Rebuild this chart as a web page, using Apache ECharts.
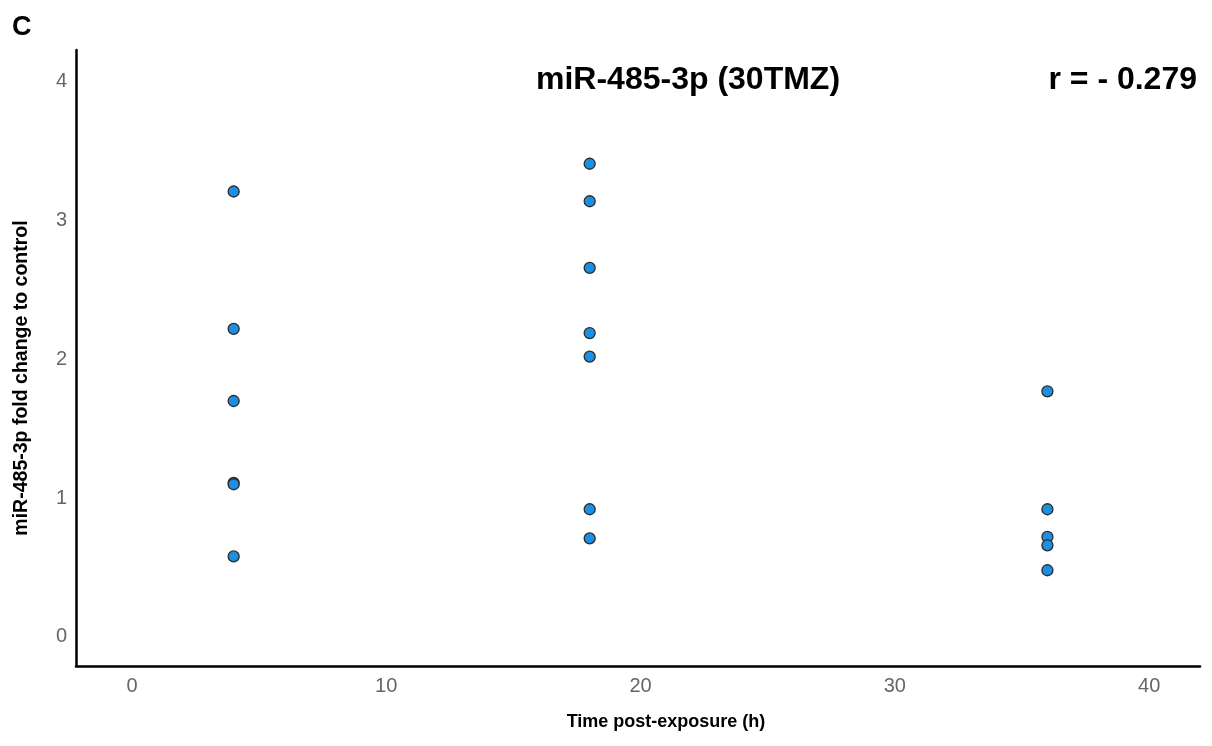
<!DOCTYPE html>
<html>
<head>
<meta charset="utf-8">
<script src="https://cdn.jsdelivr.net/npm/echarts@6/dist/echarts.min.js"></script>
<style>html,body{margin:0;padding:0;background:#fff}#c{width:1212px;height:746px}</style>
</head>
<body>
<div id="c"></div>
<script>
const timePoints = [4, 4, 4, 4, 4, 4, 18, 18, 18, 18, 18, 18, 18, 36, 36, 36, 36, 36];
const foldChange = [3.21, 2.22, 1.70, 1.11, 1.10, 0.58, 3.41, 3.14, 2.66, 2.19, 2.02, 0.92, 0.71, 1.77, 0.92, 0.72, 0.66, 0.48];
const xTicks = [0, 10, 20, 30, 40];
const yTicks = [0, 1, 2, 3, 4];
const titleText = 'miR-485-3p (30TMZ)';
const rText = 'r = - 0.279';
const panelLabel = 'C';
const xName = 'Time post-exposure (h)';
const yName = 'miR-485-3p fold change to control';

const data = timePoints.map((t, i) => [t, foldChange[i]]);
const chart = echarts.init(document.getElementById('c'));
const ff = 'Liberation Sans, Arial, sans-serif';
chart.setOption({
  animation: false,
  backgroundColor: '#fff',
  grid: { left: 76, right: 12, top: 50, bottom: 80, containLabel: false },
  title: [
    { text: panelLabel, left: 7, top: 9, textStyle: { fontFamily: ff, fontWeight: 'bold', fontSize: 27, color: '#000' } },
    { text: titleText, left: 531, top: 59, textStyle: { fontFamily: ff, fontWeight: 'bold', fontSize: 32, color: '#000' } },
    { text: rText, right: 10, top: 59, textStyle: { fontFamily: ff, fontWeight: 'bold', fontSize: 32, color: '#000' } }
  ],
  xAxis: {
    type: 'value', min: -2.2, max: 42,
    name: xName, nameLocation: 'middle', nameGap: 47,
    nameTextStyle: { fontFamily: ff, fontWeight: 'bold', fontSize: 18, color: '#000', padding: [0, 0, 0, 56] },
    axisLine: { show: true, onZero: false, lineStyle: { color: '#000', width: 2.5 } },
    axisTick: { show: false },
    splitLine: { show: false },
    axisLabel: { customValues: xTicks, margin: 10, fontFamily: ff, fontSize: 20, color: '#666' }
  },
  yAxis: {
    type: 'value', min: -0.21, max: 4.23,
    name: yName, nameLocation: 'middle', nameGap: 44,
    nameTextStyle: { fontFamily: ff, fontWeight: 'bold', fontSize: 19.5, color: '#000', padding: [0, 40, 0, 0] },
    axisLine: { show: true, onZero: false, lineStyle: { color: '#000', width: 2.5 } },
    axisTick: { show: false },
    splitLine: { show: false },
    axisLabel: { customValues: yTicks, margin: 9, fontFamily: ff, fontSize: 20, color: '#666' }
  },
  series: [{
    type: 'scatter',
    data: data,
    symbolSize: 11,
    itemStyle: { color: '#1c8fe3', borderColor: '#2b2b2b', borderWidth: 1.3, opacity: 1 }
  }]
});
</script>
</body>
</html>
